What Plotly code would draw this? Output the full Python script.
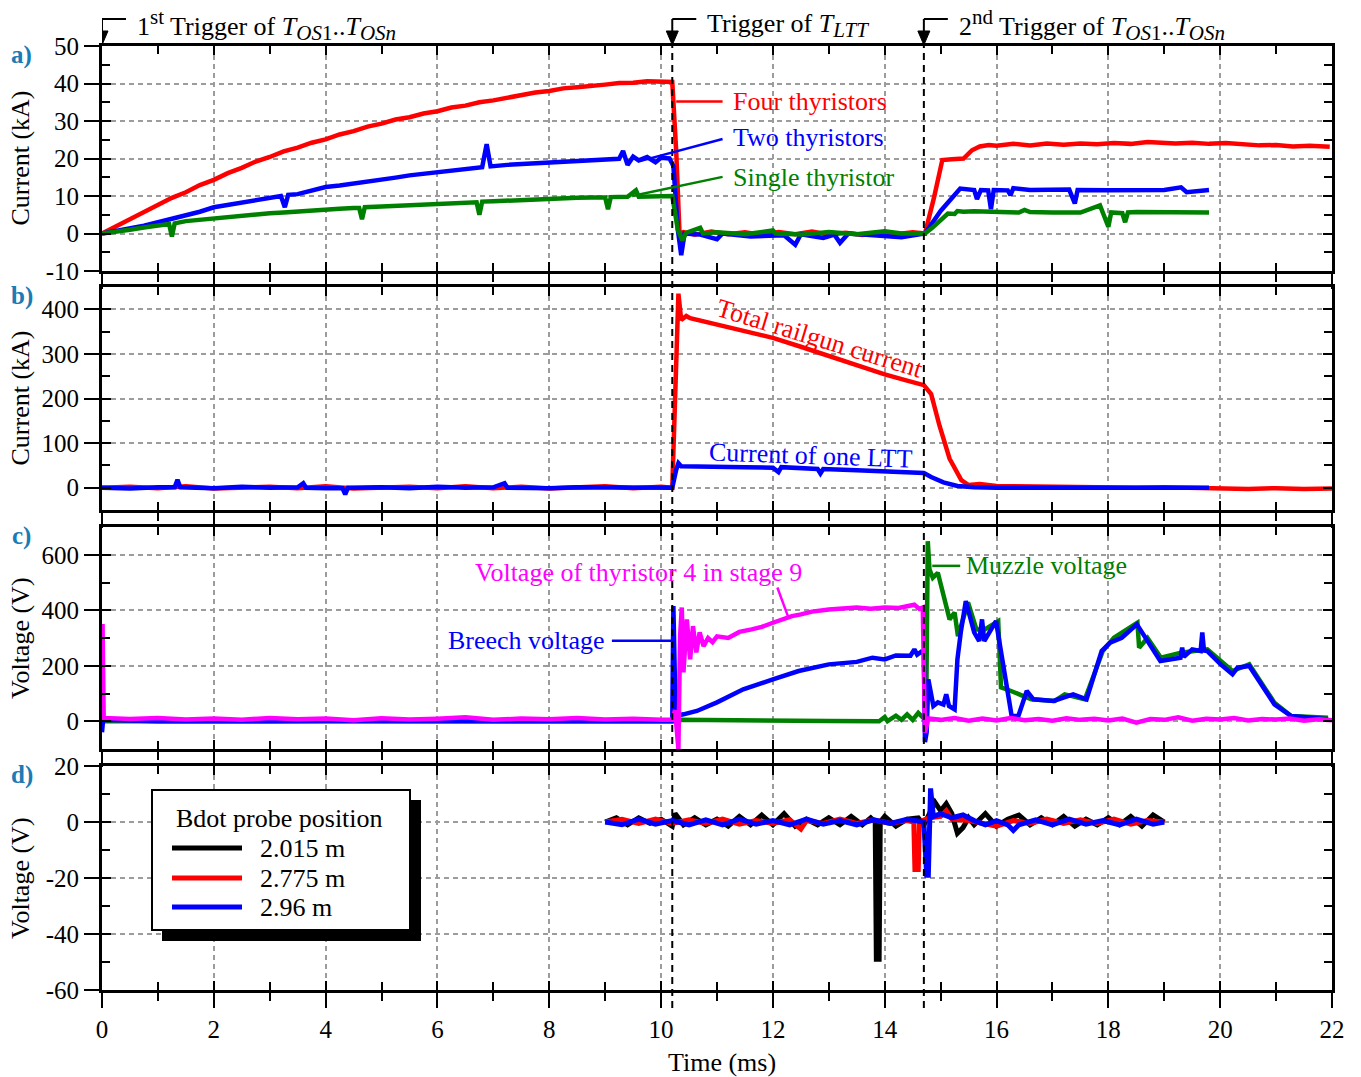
import plotly.graph_objects as go

# ---------------- data ----------------
# Panel a) thyristor currents (time ms, current kA)
a_four = [(0.0,0.0),(0.25,1.9),(0.5,3.6),(0.75,5.8),(1.0,7.4),(1.25,9.5),(1.5,11.0),(1.75,12.9),(2.0,14.3),(2.25,16.1),
          (2.5,17.5),(2.75,19.2),(3.0,20.4),(3.25,21.9),(3.5,22.9),(3.75,24.2),(4.0,25.1),(4.25,26.4),(4.5,27.3),(4.75,28.5),
          (5.0,29.3),(5.25,30.4),(5.5,31.0),(5.75,32.0),(6.0,32.6),(6.25,33.6),(6.5,34.1),(6.75,35.0),(7.0,35.5),(7.25,36.3),
          (7.5,36.8),(7.75,37.6),(8.0,38.0),(8.25,38.7),(8.5,39.0),(8.75,39.5),(9.0,39.7),(9.25,40.1),(9.5,40.2),(9.75,40.6),
          (10.0,40.5),(10.2,40.4),(10.27,22.0),(10.33,0.0),(10.4,0.4),(10.6,-0.3),(10.9,0.5),(11.2,-0.2),(11.5,0.3),(11.8,-0.4),
          (12.1,0.4),(12.4,-0.2),(12.7,0.5),(13.0,-0.3),(13.3,0.2),(13.6,-0.4),(13.9,0.3),(14.2,-0.2),(14.5,0.3),(14.72,0.0),
          (14.88,9.5),(15.03,19.6),(15.2,19.8),(15.41,20.0),(15.56,22.2),(15.7,23.2),(15.86,23.6),(16.0,23.4),(16.3,23.9),(16.6,23.5),
          (16.9,24.0),(17.2,23.7),(17.5,24.0),(17.8,23.8),(18.1,24.1),(18.4,23.9),(18.7,24.4),(18.93,24.3),(19.2,24.0),(19.5,24.2),
          (19.8,23.9),(20.1,24.1),(20.4,23.7),(20.7,23.5),(21.0,23.6),(21.3,23.2),(21.6,23.4),(21.96,23.1)]
a_two = [(0,0),(0.25,0.6),(0.5,1.5),(0.75,2.1),(1,3.0),(1.25,3.9),(1.5,5.0),(1.75,5.8),(2,7.0),(2.25,7.6),(2.5,8.2),
         (2.75,9.0),(3,9.5),(3.2,10.0),(3.27,7.0),(3.33,10.3),(3.5,10.5),(3.75,11.6),(4,12.4),(4.25,12.8),(4.5,13.3),
         (4.75,13.6),(5,14.2),(5.25,14.9),(5.5,15.5),(5.75,15.9),(6,16.4),(6.25,16.7),(6.5,17.2),(6.8,17.7),(6.88,23.8),
         (6.95,17.9),(7.25,18.3),(7.5,18.5),(7.75,18.8),(8,19.0),(8.25,19.4),(8.5,19.6),(8.75,19.8),(9.0,20.0),(9.25,19.9),
         (9.32,22.0),(9.4,18.3),(9.5,20.5),(9.6,19.5),(9.75,20.4),(9.9,19.0),(10.0,20.2),(10.15,20.0),(10.22,18.0),(10.3,1.0),
         (10.36,-5.8),(10.42,0.0),(10.7,-0.3),(11.0,-1.5),(11.1,0),(11.6,-0.8),(12.2,-0.5),(12.4,-3.0),(12.5,-0.2),(12.9,-1.2),
         (13.1,-0.3),(13.2,-2.5),(13.35,0),(13.9,-0.5),(14.3,-1.0),(14.72,0),(15.0,6.0),(15.35,12.0),(15.6,11.6),(15.65,9.2),
         (15.72,11.6),(15.85,11.5),(15.9,6.5),(15.95,11.6),(16.2,11.5),(16.25,10.2),(16.3,12.1),(16.6,11.6),(17.0,11.5),(17.3,11.7),
         (17.4,8.0),(17.45,11.6),(18.0,11.5),(18.5,11.6),(19.0,11.6),(19.3,12.3),(19.4,11.0),(19.8,11.6)]
a_single = [(0,0),(0.25,0.4),(0.5,1.0),(0.75,1.6),(1.0,2.2),(1.2,2.5),(1.25,-0.8),(1.3,2.7),(1.5,3.3),(1.75,3.7),(2.0,4.1),
            (2.25,4.4),(2.5,4.8),(2.75,5.1),(3.0,5.4),(3.25,5.6),(3.5,5.9),(3.75,6.1),(4.0,6.3),(4.25,6.6),(4.5,6.8),(4.6,6.8),
            (4.65,3.8),(4.7,7.0),(5.0,7.2),(5.25,7.4),(5.5,7.6),(5.75,7.8),(6.0,8.0),(6.25,8.2),(6.5,8.3),(6.7,8.3),(6.75,5.0),
            (6.8,8.5),(7.0,8.6),(7.25,8.8),(7.5,8.9),(7.75,9.1),(8.0,9.2),(8.25,9.4),(8.5,9.5),(8.75,9.6),(9.0,9.6),(9.05,6.5),
            (9.1,9.7),(9.4,9.8),(9.55,11.5),(9.6,9.8),(9.8,9.9),(10.0,10.0),(10.2,10.0),(10.3,1.0),(10.38,-1.8),(10.45,0.2),
            (10.7,1.5),(10.75,0),(11.0,0.3),(11.5,-0.2),(12.0,0.8),(12.05,0),(12.5,-0.3),(13.0,0.4),(13.5,-0.2),(14.0,0.6),
            (14.3,0),(14.72,0),(14.85,1.5),(15.13,5.3),(15.25,5.2),(15.3,6.0),(15.41,5.8),(15.6,5.9),(16.0,5.8),(16.4,5.6),
            (16.5,6.3),(16.6,5.7),(17.0,5.6),(17.5,5.6),(17.85,7.5),(17.95,4.0),(18.0,1.8),(18.05,5.6),(18.25,5.4),(18.3,3.0),
            (18.35,5.6),(18.5,5.7),(19.0,5.6),(19.5,5.6),(19.8,5.6)]

# Panel b) currents (kA)
b_total = [(0,0),(0.5,2),(1,-1),(1.5,3),(2,-2),(2.5,1),(3,2),(3.5,-1),(4,3),(4.5,-2),(5,1),(5.5,2),(6,-1),(6.5,3),(7,-1),
           (7.5,2),(8,-2),(8.5,1),(9,3),(9.5,-1),(10,2),(10.2,0),(10.25,180),(10.31,435),(10.36,376),(10.45,385),(10.52,380),
           (10.8,372),(11,365),(11.5,352),(12,336),(12.5,316),(13,295),(13.5,274),(14,254),(14.4,240),(14.7,230),(14.83,210),
           (14.98,139),(15.16,65),(15.37,17),(15.5,6),(15.7,8),(16,4),(16.5,3),(17,2),(17.5,1),(18,1),(18.5,0),(19,1),(19.5,0),
           (20,-1),(20.5,-3),(21,-1),(21.5,-3),(22,-2)]
b_ltt = [(0,0),(0.5,-2),(1,1),(1.3,1),(1.35,18),(1.4,1),(2,-1),(2.5,2),(3,0),(3.5,1),(3.6,10),(3.65,0),(4,-1),(4.3,-1),
         (4.35,-15),(4.4,0),(5,1),(5.5,-1),(6,2),(6.5,0),(7,1),(7.2,10),(7.25,0),(8,-1),(8.5,1),(9,0),(9.5,1),(10,0),(10.2,0),
         (10.27,40),(10.31,55),(10.36,48),(10.5,48),(11,47),(11.5,46),(12,45),(12.1,35),(12.15,46),(12.5,44),(12.8,42),
         (12.85,32),(12.9,42),(13.5,39),(14,37),(14.4,34),(14.7,33),(14.83,24),(15.05,12),(15.3,4),(15.6,1),(16,0),(17,0),
         (18,0),(19,0),(19.8,0)]

# Panel c) voltages (V)
c_muzzle = [(0,0),(1,0),(2,0),(3,0),(4,0),(5,0),(6,0),(7,0),(8,0),(9,0),(10,0),(10.2,0),(10.3,5),(11,3),(12,2),(13,1),
            (13.9,0),(14.0,15),(14.05,0),(14.2,20),(14.3,5),(14.4,25),(14.5,5),(14.6,30),(14.7,10),(14.74,0),(14.77,649),
            (14.8,547),(14.86,517),(14.95,535),(15.16,367),(15.25,392),(15.31,307),(15.4,367),(15.49,428),(15.64,331),
            (15.79,331),(16.03,361),(16.08,122),(16.26,109),(16.62,79),(17.04,73),(17.22,97),(17.58,79),(17.73,163),(17.9,253),
            (18.1,301),(18.52,355),(18.55,265),(18.7,300),(18.94,229),(19.3,247),(19.77,259),(20.22,181),(20.52,205),
            (20.97,67),(21.27,19),(21.93,13)]
c_breech = [(0,-40),(0.02,5),(1,0),(2,2),(3,0),(4,1),(5,0),(6,2),(7,0),(8,1),(9,0),(10,1),(10.2,0),(10.22,415),(10.26,19),
            (10.4,25),(10.64,37),(11,68),(11.47,115),(12,151),(12.46,181),(13,205),(13.5,214),(13.78,229),(14,223),(14.2,237),
            (14.46,236),(14.53,259),(14.58,240),(14.65,250),(14.7,245),(14.72,-75),(14.75,-40),(14.78,151),(14.87,55),
            (14.95,68),(15.05,60),(15.1,97),(15.15,55),(15.25,43),(15.3,223),(15.36,320),(15.45,433),(15.6,320),(15.69,289),
            (15.74,367),(15.78,289),(15.99,361),(16.2,104),(16.27,19),(16.39,19),(16.54,109),(16.66,79),(17.02,73),(17.37,97),
            (17.61,79),(17.88,253),(18.03,283),(18.24,301),(18.51,349),(18.93,217),(19.29,229),(19.32,265),(19.35,232),
            (19.5,259),(19.65,253),(19.68,320),(19.71,255),(19.77,253),(20.01,205),(20.22,169),(20.31,193),(20.52,199),
            (20.97,61),(21.27,19),(21.6,12),(21.93,7)]
c_thyristor = [(0,0),(0.01,350),(0.03,12),(0.5,8),(1,12),(1.5,6),(2,10),(2.5,5),(3,12),(3.5,7),(4,10),(4.5,4),(5,11),
               (5.5,6),(6,9),(6.5,14),(7,5),(7.5,10),(8,7),(8.5,12),(9,6),(9.5,9),(10,5),(10.2,6),(10.25,40),(10.31,-100),
               (10.34,307),(10.37,410),(10.4,176),(10.46,367),(10.52,223),(10.57,343),(10.63,248),(10.69,320),(10.76,271),
               (10.84,300),(10.92,285),(11,306),(11.2,300),(11.4,322),(11.62,331),(11.8,340),(12,355),(12.2,368),(12.34,379),
               (12.5,385),(12.7,395),(13,403),(13.25,405),(13.5,410),(13.75,405),(14,410),(14.25,408),(14.4,415),(14.53,420),
               (14.62,405),(14.68,410),(14.72,-40),(14.78,10),(15,5),(15.25,12),(15.5,2),(15.75,10),(16,3),(16.25,12),(16.5,4),
               (16.75,8),(17,2),(17.25,11),(17.5,5),(17.75,9),(18,3),(18.25,10),(18.5,-5),(18.75,8),(19,5),(19.25,14),(19.5,2),
               (19.75,9),(20,6),(20.25,12),(20.5,3),(20.75,8),(21,6),(21.25,10),(21.5,2),(21.75,7),(22,4)]

# Panel d) Bdot probe voltages (V)
d_2015 = [(9.0,0),(9.2,1.5),(9.4,-1),(9.6,1.5),(9.8,-0.5),(10.0,1),(10.2,-1.5),(10.25,3),(10.4,-1),(10.6,1.5),(10.8,-1),
          (11.0,1),(11.2,-1.5),(11.4,2),(11.6,-1),(11.8,2.5),(12.0,-1),(12.2,3),(12.4,-1.5),(12.6,1),(12.8,-1),(13.0,1.5),
          (13.2,-1),(13.4,2),(13.6,-1),(13.75,1.5),(13.83,0),(13.85,-49),(13.9,-49),(13.92,0),(14.0,2),(14.2,-1.5),
          (14.4,1),(14.6,1.5),(14.7,-1),(14.8,3),(14.9,7),(15.0,4),(15.1,6.5),(15.2,3),(15.3,-4),(15.4,-2),(15.5,1.5),(15.6,-1),
          (15.8,3),(16.0,-1.5),(16.2,1),(16.4,2.5),(16.6,-1),(16.8,1.5),(17.0,-1),(17.2,2),(17.4,-1.5),(17.6,1),(17.8,-1),
          (18.0,1.5),(18.2,-1),(18.4,2),(18.6,-1.5),(18.8,2.5),(19.0,0)]
d_2775 = [(9.0,0),(9.3,1),(9.6,-0.5),(9.9,1),(10.2,-0.5),(10.5,0.8),(10.8,-0.5),(11.1,1),(11.4,-0.8),(11.7,0.5),(12.0,-0.5),
          (12.3,0.8),(12.5,-2.5),(12.6,0.5),(12.9,-0.5),(13.2,1),(13.5,-0.5),(13.8,0.8),(14.1,-0.5),(14.4,0.5),(14.52,0),
          (14.54,-17),(14.6,-17),(14.62,0),(14.8,1.5),(15.0,2),(15.1,4),(15.2,1),(15.5,0.5),(15.8,-0.5),(16.0,-1.5),(16.3,0.5),
          (16.6,-0.5),(16.9,1),(17.2,-0.5),(17.5,0.8),(17.8,-0.5),(18.1,1),(18.4,-0.8),(18.7,0.5),(19.0,0)]
d_296 = [(9.0,0),(9.3,-1),(9.6,1),(9.9,-0.8),(10.2,0.5),(10.5,-1),(10.8,0.8),(11.1,-1),(11.4,1),(11.7,-0.8),(12.0,0.5),
         (12.3,-1),(12.6,1),(12.9,-0.8),(13.2,0.5),(13.5,-1),(13.8,0.8),(14.1,-0.5),(14.4,1),(14.7,0),(14.75,-19),(14.78,-19),
         (14.82,12),(14.87,2),(15.0,3),(15.2,1.5),(15.4,2.5),(15.6,0.5),(15.8,-1),(16.0,0.5),(16.2,-1),(16.3,-3),(16.4,-1),
         (16.7,0.8),(17.0,-1),(17.3,1),(17.6,-0.8),(17.9,0.5),(18.2,-1),(18.5,1),(18.8,-0.8),(19.0,0)]

SUB = '<span style="font-size:21px">'
trigger_times = [0.0, 10.2, 14.7]
trigger_labels = [
    "1<sup>" + SUB + "st</span></sup> Trigger of <i>T</i><sub>" + SUB + "<i>OS</i>1</span></sub>..<i>T</i><sub>" + SUB + "<i>OSn</i></span></sub>",
    "Trigger of <i>T</i><sub>" + SUB + "<i>LTT</i></span></sub>",
    "2<sup>" + SUB + "nd</span></sup> Trigger of <i>T</i><sub>" + SUB + "<i>OS</i>1</span></sub>..<i>T</i><sub>" + SUB + "<i>OSn</i></span></sub>"]

x_range = [0, 22]
x_major = [0, 2, 4, 6, 8, 10, 12, 14, 16, 18, 20, 22]
x_minor = [1, 3, 5, 7, 9, 11, 13, 15, 17, 19, 21]
y_ranges = [[-10, 50], [-50, 450], [-100, 700], [-60, 20]]
y_major = [[-10, 0, 10, 20, 30, 40, 50], [0, 100, 200, 300, 400], [0, 200, 400, 600], [-60, -40, -20, 0, 20]]
y_major_text = [["-10", "0", "10", "20", "30", "40", "50"], ["0", "100", "200", "300", "400"],
                ["0", "200", "400", "600"], ["-60", "-40", "-20", "0", "20"]]
y_minor = [[-5, 5, 15, 25, 35, 45], [-50, 50, 150, 250, 350, 450], [-100, 100, 300, 500, 700], [-50, -30, -10, 10]]
y_titles = ["Current (kA)", "Current (kA)", "Voltage (V)", "Voltage (V)"]
panel_letters = ["a)", "b)", "c)", "d)"]
legend_title = "Bdot probe position"
legend_names = ["2.015 m", "2.775 m", "2.96 m"]

# ---------------- layout geometry (pixels) ----------------
FONT = "Liberation Serif"
L, R, T, B = 102, 1332, 46, 990
W, H = R - L, B - T
def px(p): return (p - L) / W
def py(p): return (B - p) / H
panel_px = [(46, 271), (287, 510), (527, 749), (766, 990)]
GRID = "#9c9c9c"

fig = go.Figure()

def add(series, color, name, panel, width=4.5):
    xs = [p[0] for p in series]
    ys = [p[1] for p in series]
    sfx = "" if panel == 1 else str(panel)
    fig.add_trace(go.Scatter(x=xs, y=ys, mode="lines", name=name, showlegend=False,
                             line=dict(color=color, width=width),
                             xaxis="x" + sfx, yaxis="y" + sfx))

add(a_four, "#ff0000", "Four thyristors", 1)
add(a_two, "#0000ff", "Two thyristors", 1)
add(a_single, "#008000", "Single thyristor", 1)
add(b_total, "#ff0000", "Total railgun current", 2)
add(b_ltt, "#0000ff", "Current of one LTT", 2)
add(c_muzzle, "#008000", "Muzzle voltage", 3)
add(c_breech, "#0000ff", "Breech voltage", 3)
add(c_thyristor, "#ff00ff", "Voltage of thyristor 4 in stage 9", 3)
add(d_2015, "#000000", legend_names[0], 4, 5)
add(d_2775, "#ff0000", legend_names[1], 4, 5)
add(d_296, "#0000ff", legend_names[2], 4, 5)

# empty helper traces so that the overlay (outer-tick) axes get drawn
for i in range(1, 5):
    sfx = "" if i == 1 else str(i)
    fig.add_trace(go.Scatter(x=[], y=[], mode="lines", showlegend=False, hoverinfo="skip",
                             xaxis="x" + str(i + 4), yaxis="y" + sfx))
    fig.add_trace(go.Scatter(x=[], y=[], mode="lines", showlegend=False, hoverinfo="skip",
                             xaxis="x" + sfx, yaxis="y" + str(i + 4)))

tickfont = dict(family=FONT, size=25, color="black")
layout = {}
for i, (top, bot) in enumerate(panel_px, start=1):
    sfx = "" if i == 1 else str(i)
    dom = [py(bot), py(top)]
    layout["xaxis" + sfx] = dict(
        domain=[0, 1], range=x_range, anchor="y" + sfx, tickmode="array", tickvals=x_major,
        ticks="inside", ticklen=9, tickwidth=2, tickcolor="black", mirror="ticks",
        showline=True, linewidth=2.5, linecolor="black",
        showgrid=True, gridcolor=GRID, griddash="5px,4px", gridwidth=2, zeroline=False,
        showticklabels=False,
        minor=dict(tickmode="array", tickvals=x_minor, ticks="inside", ticklen=8, tickwidth=2,
                   tickcolor="black", showgrid=False))
    layout["yaxis" + sfx] = dict(
        domain=dom, range=y_ranges[i - 1], anchor="x" + sfx, tickmode="array", tickvals=y_major[i - 1],
        ticks="inside", ticklen=9, tickwidth=2, tickcolor="black", mirror="ticks",
        showline=True, linewidth=2.5, linecolor="black",
        showgrid=True, gridcolor=GRID, griddash="5px,4px", gridwidth=2, zeroline=False,
        showticklabels=False,
        minor=dict(tickmode="array", tickvals=y_minor[i - 1], ticks="inside", ticklen=8, tickwidth=2,
                   tickcolor="black", showgrid=False))
    # overlay axes carrying outward ticks and the labels
    layout["xaxis" + str(i + 4)] = dict(
        overlaying="x" + sfx, anchor="y" + sfx, side="bottom", range=x_range, tickmode="array",
        tickvals=x_major, ticktext=[str(v) for v in x_major], ticks="outside", ticklen=17, tickwidth=2,
        tickcolor="black", showline=False, showgrid=False, zeroline=False, showticklabels=(i == 4),
        tickfont=tickfont,
        minor=dict(tickmode="array", tickvals=x_minor, ticks="outside", ticklen=10, tickwidth=2,
                   tickcolor="black", showgrid=False))
    layout["yaxis" + str(i + 4)] = dict(
        overlaying="y" + sfx, anchor="x" + sfx, side="left", range=y_ranges[i - 1], tickmode="array",
        tickvals=y_major[i - 1], ticktext=y_major_text[i - 1], ticks="outside", ticklen=17, tickwidth=2,
        tickcolor="black", showline=False, showgrid=False, zeroline=False, showticklabels=True,
        tickfont=tickfont)

fig.update_layout(**layout)

shapes = []
annotations = []
title_font = dict(family=FONT, size=26, color="black")
for i, (top, bot) in enumerate(panel_px):
    annotations.append(dict(text=y_titles[i], xref="paper", yref="paper", x=px(20), y=py((top + bot) / 2),
                            xanchor="center", yanchor="middle", textangle=-90, showarrow=False, font=title_font))
    annotations.append(dict(text="<b>" + panel_letters[i] + "</b>", xref="paper", yref="paper", x=px(22),
                            y=py(top + 9), xanchor="center", yanchor="middle", showarrow=False,
                            font=dict(family=FONT, size=25, color="#1b7bb4")))
annotations.append(dict(text="Time (ms)", xref="paper", yref="paper", x=px(722), y=py(1062),
                        xanchor="center", yanchor="middle", showarrow=False, font=title_font))

# trigger markers: bent line with a filled arrowhead pointing down onto the panel
for t, lab in zip(trigger_times, trigger_labels):
    shapes.append(dict(type="line", xref="x", xsizemode="pixel", xanchor=t, x0=0, x1=24, yref="paper",
                       y0=py(19), y1=py(19), line=dict(color="black", width=2)))
    shapes.append(dict(type="line", xref="x", xsizemode="pixel", xanchor=t, x0=0, x1=0, yref="paper",
                       y0=py(19), y1=py(34), line=dict(color="black", width=2)))
    shapes.append(dict(type="path", xref="x", xsizemode="pixel", xanchor=t, yref="paper",
                       path="M -6,%.5f L 6,%.5f L 0,%.5f Z" % (py(31), py(31), py(45)),
                       fillcolor="black", line=dict(color="black", width=1)))
    annotations.append(dict(text=lab, x=t, xref="x", xshift=33, y=py(25), yref="paper", xanchor="left",
                            yanchor="middle", showarrow=False, font=title_font))
    if t > 0:
        shapes.append(dict(type="line", xref="x", x0=t, x1=t, yref="paper", y0=py(1008), y1=py(46),
                           line=dict(color="black", width=2, dash="7px,5px")))

# in-panel labels with leader lines
def label(text, color, x, y, xref, yref, xanchor="left", angle=0):
    annotations.append(dict(text=text, x=x, y=y, xref=xref, yref=yref, xanchor=xanchor, yanchor="middle",
                            showarrow=False, textangle=angle, font=dict(family=FONT, size=26, color=color)))
def leader(color, x0, y0, x1, y1, xref, yref):
    shapes.append(dict(type="line", xref=xref, yref=yref, x0=x0, y0=y0, x1=x1, y1=y1,
                       line=dict(color=color, width=2.5)))

leader("#ff0000", 10.27, 35.2, 11.1, 35.2, "x", "y")
label("Four thyristors", "#ff0000", 11.25, 35.2, "x", "y")
leader("#0000ff", 9.62, 19.3, 11.1, 25.2, "x", "y")
label("Two thyristors", "#0000ff", 11.25, 25.5, "x", "y")
leader("#008000", 9.48, 10.0, 11.1, 15.1, "x", "y")
label("Single thyristor", "#008000", 11.25, 15.0, "x", "y")
label("Total railgun current", "#ff0000", 12.84, 335, "x2", "y2", "center", 17)
label("Current of one LTT", "#0000ff", 12.68, 73, "x2", "y2", "center", 2)
leader("#ff00ff", 12.08, 482, 12.27, 378, "x3", "y3")
label("Voltage of thyristor 4 in stage 9", "#ff00ff", 9.6, 536, "x3", "y3", "center")
leader("#0000ff", 9.12, 290, 10.2, 290, "x3", "y3")
label("Breech voltage", "#0000ff", 9.04, 290, "x3", "y3", "right")
leader("#008000", 14.85, 560, 15.35, 560, "x3", "y3")
label("Muzzle voltage", "#008000", 15.42, 562, "x3", "y3")

# legend box (panel d)
shapes.append(dict(type="rect", xref="paper", yref="paper", x0=px(162), x1=px(421), y0=py(941), y1=py(800),
                   fillcolor="black", line=dict(color="black", width=0)))
shapes.append(dict(type="rect", xref="paper", yref="paper", x0=px(152), x1=px(410), y0=py(930), y1=py(790),
                   fillcolor="white", line=dict(color="black", width=2)))
annotations.append(dict(text=legend_title, xref="paper", yref="paper", x=px(279), y=py(818), xanchor="center",
                        yanchor="middle", showarrow=False, font=title_font))
for name, color, ypix in zip(legend_names, ["#000000", "#ff0000", "#0000ff"], [848, 878, 907]):
    shapes.append(dict(type="line", xref="paper", yref="paper", x0=px(172), x1=px(242), y0=py(ypix),
                       y1=py(ypix), line=dict(color=color, width=5)))
    annotations.append(dict(text=name, xref="paper", yref="paper", x=px(258), y=py(ypix), xanchor="left",
                            yanchor="middle", showarrow=False, font=title_font))

fig.update_layout(width=1361, height=1077, margin=dict(l=L, r=1361 - R, t=T, b=1077 - B),
                  paper_bgcolor="white", plot_bgcolor="white", showlegend=False,
                  font=dict(family=FONT, size=22, color="black"),
                  shapes=shapes, annotations=annotations)

fig.write_html("out.html")
